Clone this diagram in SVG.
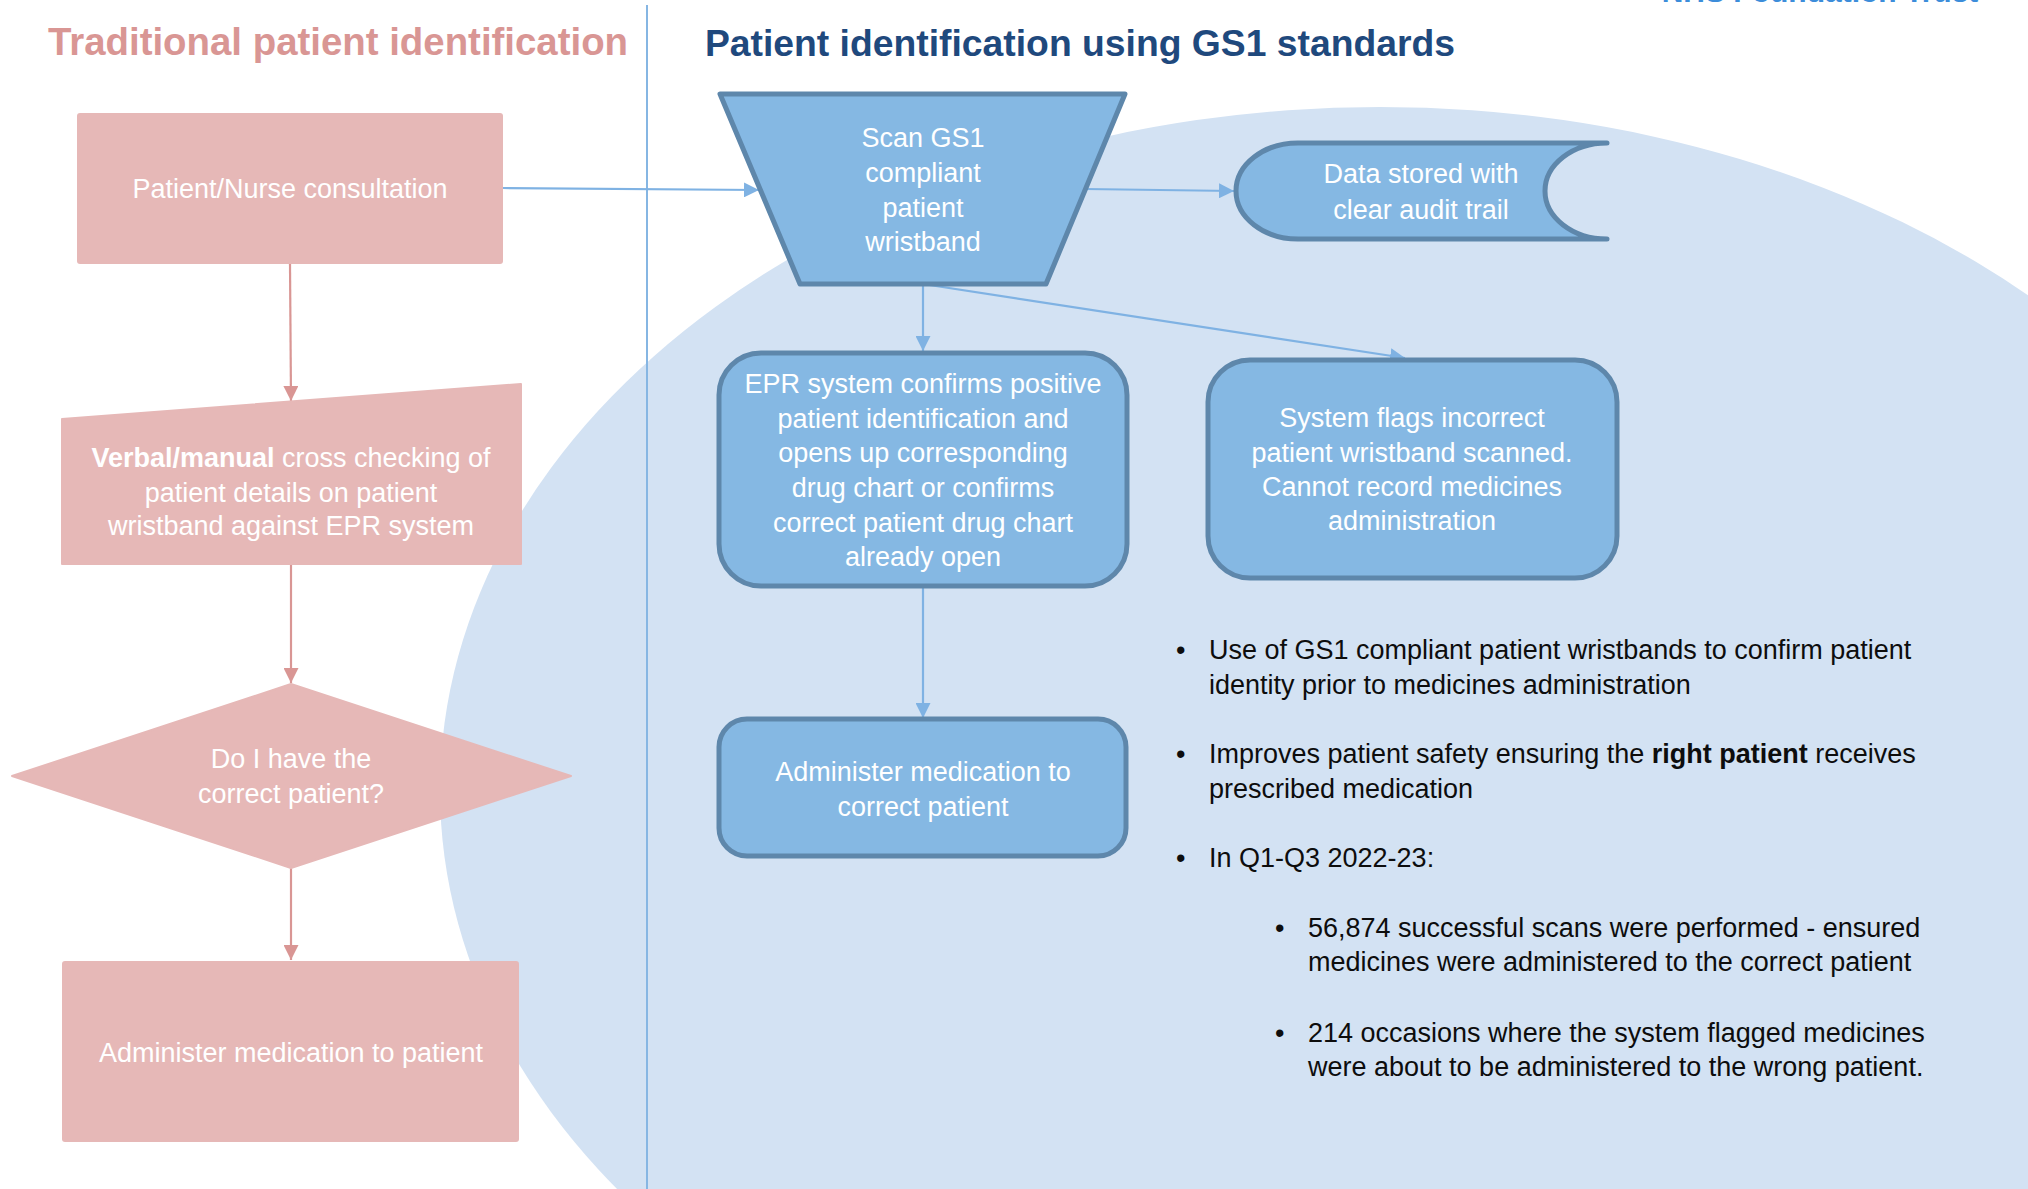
<svg xmlns="http://www.w3.org/2000/svg" width="2028" height="1189" viewBox="0 0 2028 1189">
<defs>
<style>
text{font-family:"Liberation Sans",Arial,sans-serif;}
.title{font-size:38.4px;font-weight:bold;text-anchor:middle;}
.wt{font-size:27px;fill:#FFFFFF;text-anchor:middle;}
.bt{font-size:27px;fill:#0D0D0D;}
.pink{fill:#E6B8B7;}
.blue{fill:#85B8E3;stroke:#5E87AB;stroke-width:5;stroke-linejoin:round;stroke-linecap:round;}
.cb{fill:none;stroke:#7FB2E3;stroke-width:2.2;marker-end:url(#ab);}
.cp{fill:none;stroke:#D99694;stroke-width:2.2;marker-end:url(#ap);}
</style>
<marker id="ab" viewBox="0 0 15 15" refX="15" refY="7.5" markerWidth="15" markerHeight="15" markerUnits="userSpaceOnUse" orient="auto"><path d="M0,0 L15,7.5 L0,15 Z" fill="#7FB2E3"/></marker>
<marker id="ap" viewBox="0 0 15 15" refX="15" refY="7.5" markerWidth="15" markerHeight="15" markerUnits="userSpaceOnUse" orient="auto"><path d="M0,0 L15,7.5 L0,15 Z" fill="#D99694"/></marker>
</defs>
<rect width="2028" height="1189" fill="#FFFFFF"/>
<ellipse id="background-ellipse" cx="1380" cy="790" rx="940" ry="683" fill="#D3E2F3"/>
<line id="divider" x1="647" y1="5" x2="647" y2="1189" stroke="#86B6E3" stroke-width="2"/>
<text id="trust-name" x="1820" y="2" style="font-size:30px;font-weight:bold;fill:#3C8DDA;text-anchor:middle">NHS Foundation Trust</text>
<text id="title-left" class="title" x="338" y="55" fill="#D99694">Traditional patient identification</text>
<text id="title-right" class="title" x="1080" y="56" fill="#1F497D" style="font-size:37.3px">Patient identification using GS1 standards</text>

<g id="connectors">
<path class="cp" d="M290,264 L291,401"/>
<path class="cp" d="M291,564 L291,683"/>
<path class="cp" d="M291,868 L291,960"/>
<path class="cb" d="M503,188 L759,190"/>
<path class="cb" d="M1085,189 L1234,191"/>
<path class="cb" d="M923,284 L923,351"/>
<path class="cb" d="M923,284 L1405,358"/>
<path class="cb" d="M923,586 L923,718"/>
</g>

<g id="node-consultation">
<rect class="pink" x="77" y="113" width="426" height="151" rx="3"/>
<text class="wt" x="290" y="198">Patient/Nurse consultation</text>
</g>
<g id="node-verbal-check">
<path class="pink" d="M62,419 L521,384 L521,564 L62,564 Z" stroke="#E6B8B7" stroke-width="2" stroke-linejoin="round"/>
<text class="wt" x="291" y="467"><tspan font-weight="bold">Verbal/manual</tspan> cross checking of</text>
<text class="wt" x="291" y="502">patient details on patient</text>
<text class="wt" x="291" y="535">wristband against EPR system</text>
</g>
<g id="node-decision">
<path class="pink" d="M291,684 L571,776 L291,868 L12,776 Z" stroke="#E6B8B7" stroke-width="2" stroke-linejoin="round"/>
<text class="wt" x="291" y="768">Do I have the</text>
<text class="wt" x="291" y="803">correct patient?</text>
</g>
<g id="node-administer-left">
<rect class="pink" x="62" y="961" width="457" height="181" rx="3"/>
<text class="wt" x="291" y="1062">Administer medication to patient</text>
</g>

<g id="node-scan">
<path class="blue" d="M720,94 L1125,94 L1046,284 L800,284 Z"/>
<text class="wt" x="923" y="147">Scan GS1</text>
<text class="wt" x="923" y="182">compliant</text>
<text class="wt" x="923" y="217">patient</text>
<text class="wt" x="923" y="251">wristband</text>
</g>
<g id="node-data-stored">
<path class="blue" d="M1298,143 L1607,143 A62,48 0 0,0 1545,191 A62,48 0 0,0 1607,239 L1298,239 A62,48 0 0,1 1236,191 A62,48 0 0,1 1298,143 Z"/>
<text class="wt" x="1421" y="183">Data stored with</text>
<text class="wt" x="1421" y="219">clear audit trail</text>
</g>
<g id="node-epr">
<rect class="blue" x="719" y="353" width="408" height="233" rx="42"/>
<text class="wt" x="923" y="393">EPR system confirms positive</text>
<text class="wt" x="923" y="428">patient identification and</text>
<text class="wt" x="923" y="462">opens up corresponding</text>
<text class="wt" x="923" y="497">drug chart or confirms</text>
<text class="wt" x="923" y="532">correct patient drug chart</text>
<text class="wt" x="923" y="566">already open</text>
</g>
<g id="node-system-flags">
<rect class="blue" x="1208" y="360" width="409" height="218" rx="42"/>
<text class="wt" x="1412" y="427">System flags incorrect</text>
<text class="wt" x="1412" y="462">patient wristband scanned.</text>
<text class="wt" x="1412" y="496">Cannot record medicines</text>
<text class="wt" x="1412" y="530">administration</text>
</g>
<g id="node-administer-right">
<rect class="blue" x="719" y="719" width="407" height="137" rx="28"/>
<text class="wt" x="923" y="781">Administer medication to</text>
<text class="wt" x="923" y="816">correct patient</text>
</g>

<g id="bullets">
<text class="bt" x="1176" y="659">•</text>
<text class="bt" x="1209" y="659">Use of GS1 compliant patient wristbands to confirm patient</text>
<text class="bt" x="1209" y="694">identity prior to medicines administration</text>
<text class="bt" x="1176" y="763">•</text>
<text class="bt" x="1209" y="763">Improves patient safety ensuring the <tspan font-weight="bold">right patient</tspan> receives</text>
<text class="bt" x="1209" y="798">prescribed medication</text>
<text class="bt" x="1176" y="867">•</text>
<text class="bt" x="1209" y="867">In Q1-Q3 2022-23:</text>
<text class="bt" x="1275" y="937">•</text>
<text class="bt" x="1308" y="937">56,874 successful scans were performed - ensured</text>
<text class="bt" x="1308" y="971">medicines were administered to the correct patient</text>
<text class="bt" x="1275" y="1042">•</text>
<text class="bt" x="1308" y="1042">214 occasions where the system flagged medicines</text>
<text class="bt" x="1308" y="1076">were about to be administered to the wrong patient.</text>
</g>
</svg>
